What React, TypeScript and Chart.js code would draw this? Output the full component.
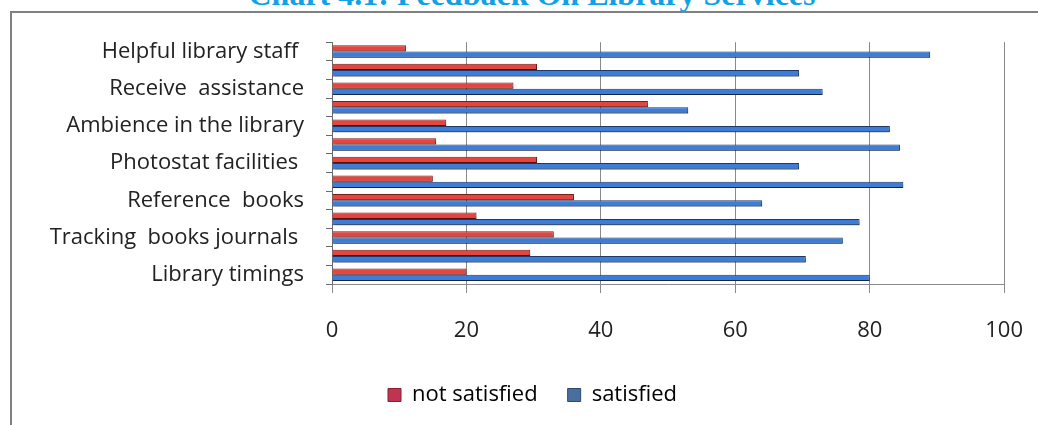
import React, { useEffect, useRef } from "react";
import { Chart, registerables } from "chart.js";

Chart.register(...registerables);

// Rows from top to bottom; only every other row carries a visible name.
const categories: string[] = [
  "Helpful library staff ",
  "",
  "Receive  assistance",
  "",
  "Ambience in the library",
  "",
  "Photostat facilities ",
  "",
  "Reference  books",
  "",
  "Tracking  books journals ",
  "",
  "Library timings",
];

const notSatisfied: number[] = [11, 30.5, 27, 47, 17, 15.5, 30.5, 15, 36, 21.5, 33, 29.5, 20];
const satisfied: number[] = [89, 69.5, 73, 53, 83, 84.5, 69.5, 85, 64, 78.5, 76, 70.5, 80];

const xTicks: number[] = [0, 20, 40, 60, 80, 100];

const seriesNames = ["not satisfied", "satisfied"];

const FONT = "'Open Sans', 'DejaVu Sans', sans-serif";

// Soft drop shadow under the bars, as in the old office chart style.
const barShadow = {
  id: "barShadow",
  beforeDatasetsDraw(chart: any) {
    const c = chart.ctx;
    c.save();
    c.shadowColor = "rgba(0,0,0,0.4)";
    c.shadowOffsetX = 1;
    c.shadowOffsetY = 3;
    c.shadowBlur = 3;
  },
  afterDatasetsDraw(chart: any) {
    chart.ctx.restore();
  },
};

export default function App() {
  const canvasRef = useRef<HTMLCanvasElement | null>(null);

  useEffect(() => {
    const canvas = canvasRef.current;
    if (!canvas) return;
    const chart = new Chart(canvas, {
      type: "bar",
      data: {
        labels: categories,
        datasets: [
          {
            label: seriesNames[0],
            data: notSatisfied,
            backgroundColor: "#E4463F",
            borderColor: "#7A1C18",
            borderWidth: 1,
            categoryPercentage: 0.68,
            barPercentage: 1,
          },
          {
            label: seriesNames[1],
            data: satisfied,
            backgroundColor: "#3D7DD8",
            borderColor: "#1B3A66",
            borderWidth: 1,
            categoryPercentage: 0.68,
            barPercentage: 1,
          },
        ],
      },
      options: {
        indexAxis: "y",
        responsive: false,
        animation: false,
        layout: { padding: { left: 33, right: 28, top: 0, bottom: 9 } },
        plugins: {
          tooltip: { enabled: false },
          legend: {
            position: "bottom",
            labels: {
              boxWidth: 13,
              boxHeight: 13,
              padding: 30,
              color: "#222",
              font: { family: FONT, size: 22 },
              generateLabels: () => [
                {
                  text: seriesNames[0],
                  fillStyle: "#C0344F",
                  strokeStyle: "#8A1F35",
                  lineWidth: 1,
                  hidden: false,
                  datasetIndex: 0,
                },
                {
                  text: seriesNames[1],
                  fillStyle: "#4A6F9E",
                  strokeStyle: "#2C4A70",
                  lineWidth: 1,
                  hidden: false,
                  datasetIndex: 1,
                },
              ],
            },
          },
        },
        scales: {
          x: {
            min: xTicks[0],
            max: xTicks[xTicks.length - 1],
            afterFit: (scale: any) => {
              scale.height = 70;
            },
            afterBuildTicks: (scale: any) => {
              scale.ticks = xTicks.map((v) => ({ value: v }));
            },
            ticks: {
              color: "#222",
              padding: 25,
              font: { family: FONT, size: 22 },
            },
            grid: {
              color: "#8a8a8a",
              lineWidth: 1,
              tickLength: 9,
            },
            border: { display: true, color: "#8a8a8a", width: 1 },
          },
          y: {
            afterFit: (scale: any) => {
              scale.width = 287;
            },
            ticks: {
              autoSkip: false,
              color: "#222",
              padding: 22,
              font: { family: FONT, size: 22 },
            },
            grid: {
              drawOnChartArea: false,
              drawTicks: true,
              tickLength: 6,
              color: "#6a6a6a",
              offset: true,
            },
            border: { display: true, color: "#6a6a6a", width: 1 },
          },
        },
      },
      plugins: [barShadow],
    });
    return () => chart.destroy();
  }, []);

  return (
    <div
      style={{
        position: "fixed",
        left: 0,
        top: 0,
        width: 1038,
        height: 425,
        overflow: "hidden",
        background: "#ffffff",
      }}
    >
      <div
        style={{
          position: "absolute",
          left: 132,
          top: -20,
          width: 800,
          textAlign: "center",
          whiteSpace: "nowrap",
          fontFamily: "'Liberation Serif', 'Times New Roman', serif",
          fontWeight: "bold",
          fontSize: 32,
          lineHeight: "28px",
          color: "#12A0E6",
        }}
      >
        Chart 4.1: Feedback On Library Services
      </div>
      <div
        style={{
          position: "absolute",
          left: 10,
          top: 11,
          width: 1100,
          height: 500,
          borderLeft: "2px solid #808080",
          borderTop: "2px solid #808080",
        }}
      />
      <canvas
        ref={canvasRef}
        width={1036}
        height={418}
        style={{ position: "absolute", left: 12, top: 7, width: 1036, height: 418 }}
      />
    </div>
  );
}
